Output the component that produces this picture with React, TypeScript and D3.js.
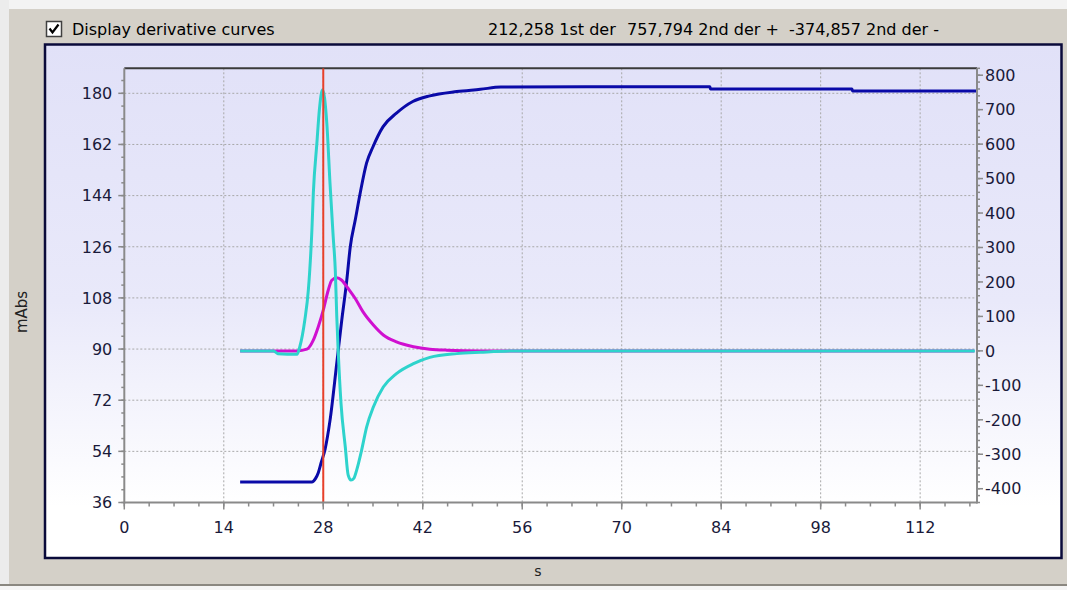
import React from "react";
import * as d3 from "d3";

// ---- data ----
const xTicks = [0, 14, 28, 42, 56, 70, 84, 98, 112];
const leftTicks = [36, 54, 72, 90, 108, 126, 144, 162, 180];
const rightTicks = [-400, -300, -200, -100, 0, 100, 200, 300, 400, 500, 600, 700, 800];

const absTime = [16.3, 26.4, 26.9, 27.3, 27.7, 28.25, 28.95, 29.9, 30.6, 31.3, 31.8, 32.5, 33.2, 34.1, 35.0, 36.4, 38.3, 40.6, 43.0, 46.8, 50.1, 53.0, 82.4, 82.5, 102.4, 102.5, 119.9];
const absValue = [43.2, 43.2, 44.4, 46.5, 50.0, 54.7, 64.9, 85.0, 100.1, 114.0, 126.0, 135.4, 144.9, 155.5, 161.2, 168.2, 173.0, 177.1, 179.1, 180.6, 181.4, 182.2, 182.3, 181.5, 181.5, 180.8, 180.8];

const der1Time = [16.3, 24.3, 25.7, 26.6, 27.3, 28.0, 28.7, 29.2, 29.9, 30.6, 31.5, 32.5, 33.6, 35.05, 36.45, 38.3, 40.7, 43.0, 45.4, 50.0, 119.6];
const der1Value = [0, 0, 5, 31, 70, 118, 176, 205, 212, 205, 181, 152, 113, 75, 46, 26, 12, 5, 2, 0, 0];

const der2Time = [16.3, 21.0, 21.6, 24.3, 24.7, 25.4, 25.9, 26.1, 26.4, 26.6, 27.1, 27.45, 27.9, 28.5, 28.95, 29.4, 29.7, 29.9, 30.1, 30.5, 31.1, 31.5, 31.9, 32.3, 32.7, 33.4, 34.1, 35.05, 36.45, 38.3, 40.7, 43.0, 46.8, 50.1, 55.0, 119.7];
const der2Value = [0, 0, -8, -10, 12, 89, 176, 234, 350, 457, 602, 699, 758, 660, 486, 331, 230, 100, 0, -153, -279, -360, -375, -370, -346, -288, -221, -163, -105, -66, -37, -19, -8, -4, 0, 0];

const markerTime = 28;
const headerTexts = ["212,258 1st der", "757,794 2nd der +", "-374,857 2nd der -"];

const FONT = "'DejaVu Sans', sans-serif";

export default function App() {
  const W = 1067, H = 590;
  const L = 124.3, R = 977, T = 68.3, B = 502.5;
  const x = d3.scaleLinear().domain([0, 120]).range([L, R]);
  const yL = d3.scaleLinear().domain([36, 188.8]).range([B, T]);
  const yR = d3.scaleLinear().domain([-440, 820]).range([B, T]);

  const xMinor = d3.range(0, 120.01, 3.5);
  const lMinor = d3.range(36, 188.8, 4.5);
  const rMinor = d3.range(-440, 820.01, 20);

  const absPts: [number, number][] = absTime.map((t, i) => [t, absValue[i]]);
  const d1Pts: [number, number][] = der1Time.map((t, i) => [t, der1Value[i]]);
  const d2Pts: [number, number][] = der2Time.map((t, i) => [t, der2Value[i]]);

  const lineL = d3.line<[number, number]>().x(d => x(d[0])).y(d => yL(d[1])).curve(d3.curveMonotoneX);
  const lineR = d3.line<[number, number]>().x(d => x(d[0])).y(d => yR(d[1])).curve(d3.curveMonotoneX);

  const tickColor = "#8a8a8a";
  const textColor = "#1a1a3a";

  return (
    <svg width={W} height={H} style={{ position: "absolute", left: 0, top: 0 }} fontFamily={FONT}>
      <defs>
        <linearGradient id="panelGrad" x1="0" y1="0" x2="0" y2="1">
          <stop offset="0" stopColor="#e1e1f8" />
          <stop offset="0.5" stopColor="#e9e9fa" />
          <stop offset="0.9" stopColor="#ffffff" />
          <stop offset="1" stopColor="#ffffff" />
        </linearGradient>
        <clipPath id="plotClip">
          <rect x={L} y={T} width={R - L} height={B - T} />
        </clipPath>
      </defs>

      {/* window background */}
      <rect x={0} y={0} width={W} height={H} fill="#d4d0c8" />
      <rect x={0} y={0} width={W} height={9} fill="#f3f3f3" />
      <rect x={0} y={0} width={9} height={H} fill="#ececec" />
      <rect x={0} y={584} width={W} height={2} fill="#8a8780" />
      <rect x={0} y={586} width={W} height={4} fill="#f5f5f5" />

      {/* checkbox + header */}
      <rect x={46.5} y={21.5} width={15} height={15} fill="#ffffff" stroke="#404040" strokeWidth={1.5} />
      <path d="M49.5 28.5 L52.5 32.5 L58.5 24.5" fill="none" stroke="#000" strokeWidth={2.2} />
      <text x={72} y={35} fontSize={16} fill="#000">Display derivative curves</text>
      <text x={488} y={35} fontSize={16} fill="#000">{headerTexts[0]}</text>
      <text x={627} y={35} fontSize={16} fill="#000">{headerTexts[1]}</text>
      <text x={789} y={35} fontSize={16} fill="#000">{headerTexts[2]}</text>

      {/* chart panel */}
      <rect x={45} y={44.5} width={1016.5} height={513.5} fill="url(#panelGrad)" stroke="#0a0a3a" strokeWidth={2.5} />

      {/* grid */}
      {xTicks.filter(t => t > 0).map(t => (
        <line key={"gx" + t} x1={x(t)} x2={x(t)} y1={T} y2={B} stroke="#a8a8a8" strokeDasharray="2,2" strokeWidth={1} />
      ))}
      {leftTicks.filter(t => t > 36).map(t => (
        <line key={"gy" + t} x1={L} x2={R} y1={yL(t)} y2={yL(t)} stroke="#a8a8a8" strokeDasharray="2,2" strokeWidth={1} />
      ))}

      {/* plot frame top */}
      <line x1={L} x2={R} y1={T} y2={T} stroke="#3a3a3a" strokeWidth={2} />

      {/* curves */}
      <g clipPath="url(#plotClip)">
        <path d={lineL(absPts) || ""} fill="none" stroke="#0a0aa8" strokeWidth={3} />
        <path d={lineR(d1Pts) || ""} fill="none" stroke="#d010d0" strokeWidth={3} />
        <path d={lineR(d2Pts) || ""} fill="none" stroke="#2ed3cc" strokeWidth={3} />
        <line x1={x(markerTime)} x2={x(markerTime)} y1={T} y2={B} stroke="#e8402a" strokeWidth={2} />
      </g>

      {/* left axis */}
      <line x1={L} x2={L} y1={T} y2={B + 1} stroke={tickColor} strokeWidth={2} />
      {lMinor.map(v => (
        <line key={"lm" + v} x1={L - 3} x2={L} y1={yL(v)} y2={yL(v)} stroke={tickColor} strokeWidth={1.5} />
      ))}
      {leftTicks.map(v => (
        <g key={"lt" + v}>
          <line x1={L - 6} x2={L} y1={yL(v)} y2={yL(v)} stroke={tickColor} strokeWidth={1.5} />
          <text x={L - 12} y={yL(v)} dy="0.36em" textAnchor="end" fontSize={16} fill={textColor}>{v}</text>
        </g>
      ))}

      {/* right axis */}
      <line x1={R} x2={R} y1={T} y2={B + 1} stroke={tickColor} strokeWidth={2} />
      {rMinor.map(v => (
        <line key={"rm" + v} x1={R} x2={R + 3} y1={yR(v)} y2={yR(v)} stroke={tickColor} strokeWidth={1.5} />
      ))}
      {rightTicks.map(v => (
        <g key={"rt" + v}>
          <line x1={R} x2={R + 6} y1={yR(v)} y2={yR(v)} stroke={tickColor} strokeWidth={1.5} />
          <text x={R + 8} y={yR(v)} dy="0.36em" textAnchor="start" fontSize={16} fill={textColor}>{v}</text>
        </g>
      ))}

      {/* bottom axis */}
      <line x1={L} x2={R} y1={B} y2={B} stroke={tickColor} strokeWidth={2} />
      {xMinor.map(v => (
        <line key={"xm" + v} x1={x(v)} x2={x(v)} y1={B} y2={B + 4} stroke={tickColor} strokeWidth={1.5} />
      ))}
      {xTicks.map(v => (
        <g key={"xt" + v}>
          <line x1={x(v)} x2={x(v)} y1={B} y2={B + 7} stroke={tickColor} strokeWidth={1.5} />
          <text x={x(v)} y={527} dy="0.36em" textAnchor="middle" fontSize={16} fill={textColor}>{v}</text>
        </g>
      ))}

      {/* axis titles */}
      <text x={538} y={576} textAnchor="middle" fontSize={14} fill="#222">s</text>
      <text transform="translate(27,312) rotate(-90)" textAnchor="middle" fontSize={15} fill="#222">mAbs</text>
    </svg>
  );
}
